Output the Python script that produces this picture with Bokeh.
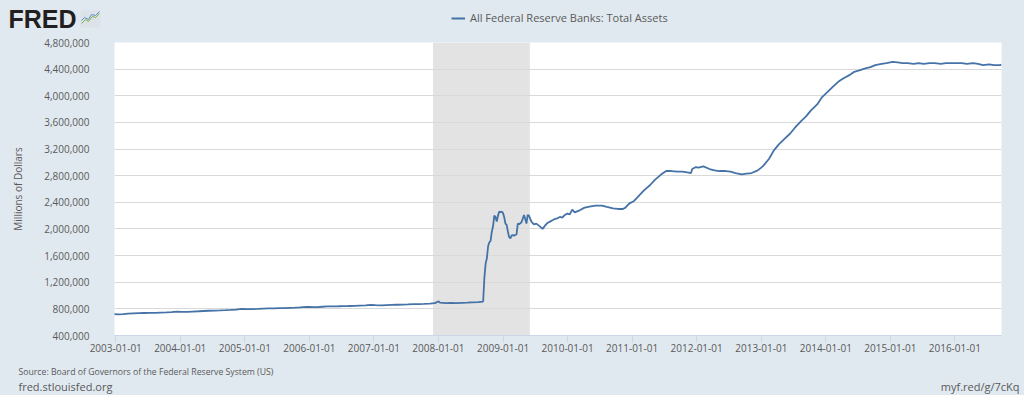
import pandas as pd
from bokeh.plotting import figure
from bokeh.layouts import column
from bokeh.models import (Range1d, FixedTicker, NumeralTickFormatter, DatetimeTickFormatter,
                          BoxAnnotation, Legend, LegendItem, GlobalInlineStyleSheet, ColumnDataSource)
from bokeh.embed import file_html
from bokeh.resources import INLINE
from bokeh.core.properties import value

# ---------------- data ----------------
dates = [
    "2002-12-18", "2003-01-15", "2003-02-12", "2003-03-12", "2003-04-09", "2003-05-14", "2003-06-11",
    "2003-07-09", "2003-08-13", "2003-09-10", "2003-10-15", "2003-11-12", "2003-12-10",
    "2004-01-14", "2004-02-11", "2004-03-10", "2004-04-14", "2004-05-12", "2004-06-09",
    "2004-07-14", "2004-08-11", "2004-09-15", "2004-10-13", "2004-11-10", "2004-12-15",
    "2005-01-12", "2005-02-09", "2005-03-16", "2005-04-13", "2005-05-11", "2005-06-15",
    "2005-07-13", "2005-08-10", "2005-09-14", "2005-10-12", "2005-11-09", "2005-12-14",
    "2006-01-11", "2006-02-15", "2006-03-15", "2006-04-12", "2006-05-10", "2006-06-14",
    "2006-07-12", "2006-08-09", "2006-09-13", "2006-10-11", "2006-11-15", "2006-12-13",
    "2007-01-10", "2007-02-14", "2007-03-14", "2007-04-11", "2007-05-09", "2007-06-13",
    "2007-07-11", "2007-08-15", "2007-09-12", "2007-10-10", "2007-11-14", "2007-12-12",
    "2007-12-26", "2008-01-02", "2008-01-09", "2008-02-13", "2008-03-12", "2008-04-09",
    "2008-05-14", "2008-06-11", "2008-07-09", "2008-08-13", "2008-09-10", "2008-09-17",
    "2008-09-24", "2008-10-01", "2008-10-08", "2008-10-15", "2008-10-22", "2008-10-29",
    "2008-11-05", "2008-11-12", "2008-11-19", "2008-11-26", "2008-12-03", "2008-12-10",
    "2008-12-17", "2008-12-24", "2008-12-31", "2009-01-07", "2009-01-14", "2009-01-21",
    "2009-01-28", "2009-02-04", "2009-02-11", "2009-02-18", "2009-02-25", "2009-03-04",
    "2009-03-11", "2009-03-18", "2009-03-25", "2009-04-01", "2009-04-15", "2009-04-29",
    "2009-05-06", "2009-05-13", "2009-05-20", "2009-05-27", "2009-06-10", "2009-06-24",
    "2009-07-08", "2009-07-22", "2009-08-05", "2009-08-12", "2009-08-26", "2009-09-09",
    "2009-09-23", "2009-10-07", "2009-10-21", "2009-11-04", "2009-11-18", "2009-12-02",
    "2009-12-16", "2009-12-30", "2010-01-13", "2010-01-27", "2010-02-10", "2010-03-10",
    "2010-04-07", "2010-05-12", "2010-06-09", "2010-07-14", "2010-08-11", "2010-09-15",
    "2010-10-13", "2010-11-10", "2010-11-24", "2010-12-15", "2011-01-12", "2011-02-09",
    "2011-03-09", "2011-04-13", "2011-05-11", "2011-06-15", "2011-07-13", "2011-08-10",
    "2011-09-14", "2011-10-12", "2011-11-09", "2011-11-30", "2011-12-07", "2011-12-28",
    "2012-01-11", "2012-02-08", "2012-03-14", "2012-04-11", "2012-05-09", "2012-06-13",
    "2012-07-11", "2012-08-08", "2012-09-12", "2012-10-10", "2012-11-07", "2012-12-12",
    "2013-01-09", "2013-02-13", "2013-03-13", "2013-04-10", "2013-05-15", "2013-06-12",
    "2013-07-10", "2013-08-14", "2013-09-11", "2013-10-09", "2013-11-13", "2013-12-11",
    "2014-01-08", "2014-02-12", "2014-03-12", "2014-04-09", "2014-05-14", "2014-06-11",
    "2014-07-09", "2014-08-13", "2014-09-10", "2014-10-08", "2014-11-12", "2014-12-10",
    "2015-01-14", "2015-02-11", "2015-03-11", "2015-04-08", "2015-05-13", "2015-06-10",
    "2015-07-08", "2015-08-12", "2015-09-09", "2015-10-14", "2015-11-11", "2015-12-09",
    "2016-01-13", "2016-02-10", "2016-03-09", "2016-04-13", "2016-05-11", "2016-06-08",
    "2016-07-13", "2016-08-10", "2016-09-14", "2016-09-21",
]
total_assets = [
    720000, 718000, 722000, 728000, 733000, 736000, 738000,
    740000, 741000, 745000, 748000, 752000, 758000,
    756000, 755000, 760000, 764000, 768000, 772000,
    775000, 777000, 781000, 785000, 790000, 800000,
    795000, 796000, 800000, 804000, 806000, 808000,
    810000, 812000, 816000, 819000, 823000, 830000,
    828000, 827000, 832000, 836000, 838000, 839000,
    842000, 843000, 845000, 848000, 852000, 860000,
    855000, 853000, 857000, 860000, 862000, 864000,
    866000, 870000, 872000, 875000, 880000, 885000,
    905000, 912000, 893000, 885000, 888000, 885000,
    890000, 893000, 897000, 902000, 910000, 1270000,
    1480000, 1560000, 1740000, 1800000, 1820000, 1960000,
    2040000, 2200000, 2180000, 2110000, 2200000, 2260000,
    2250000, 2260000, 2240000, 2180000, 2080000, 2060000,
    1960000, 1880000, 1860000, 1900000, 1910000, 1900000,
    1910000, 1920000, 2080000, 2070000, 2100000, 2210000,
    2150000, 2080000, 2210000, 2200000, 2110000, 2070000,
    2080000, 2050000, 2020000, 2000000, 2050000, 2090000,
    2110000, 2130000, 2150000, 2160000, 2180000, 2170000,
    2210000, 2230000, 2220000, 2290000, 2250000, 2280000,
    2320000, 2340000, 2350000, 2350000, 2330000, 2310000,
    2300000, 2300000, 2320000, 2380000, 2420000, 2500000,
    2580000, 2660000, 2740000, 2820000, 2870000, 2870000,
    2860000, 2860000, 2850000, 2840000, 2900000, 2930000,
    2920000, 2940000, 2900000, 2880000, 2870000, 2870000,
    2860000, 2840000, 2820000, 2830000, 2840000, 2880000,
    2940000, 3050000, 3180000, 3270000, 3360000, 3430000,
    3520000, 3620000, 3690000, 3780000, 3870000, 3980000,
    4050000, 4140000, 4210000, 4260000, 4310000, 4360000,
    4380000, 4410000, 4430000, 4460000, 4480000, 4490000,
    4510000, 4500000, 4490000, 4490000, 4480000, 4490000,
    4480000, 4490000, 4490000, 4480000, 4490000, 4490000,
    4490000, 4490000, 4480000, 4490000, 4480000, 4460000,
    4470000, 4460000, 4460000, 4470000,
]
recession_start = "2007-12-01"
recession_end = "2009-06-01"
x_tick_dates = ["2003-01-01", "2004-01-01", "2005-01-01", "2006-01-01", "2007-01-01",
                "2008-01-01", "2009-01-01", "2010-01-01", "2011-01-01", "2012-01-01",
                "2013-01-01", "2014-01-01", "2015-01-01", "2016-01-01"]
y_ticks = [400000, 800000, 1200000, 1600000, 2000000, 2400000, 2800000,
           3200000, 3600000, 4000000, 4400000, 4800000]
series_name = "All Federal Reserve Banks: Total Assets"
y_label = "Millions of Dollars"
logo_text = "FRED"
source_text = "Source: Board of Governors of the Federal Reserve System (US)"
site_text = "fred.stlouisfed.org"
link_text = "myf.red/g/7cKq"

# ---------------- styling ----------------
BG = "#e1e9f0"
TXT = "#595959"
LINE = "#4572a7"
FONT = "Open Sans"
W = 1024
HEAD_H, MAIN_H, FOOT_H = 34, 325, 36

src = ColumnDataSource(data=dict(date=pd.to_datetime(dates), assets=total_assets))


def bare_figure(height, y0, y1):
    f = figure(width=W, height=height, output_backend="svg", toolbar_location=None,
               x_range=Range1d(0, W), y_range=Range1d(y0, y1),
               x_axis_location=None, y_axis_location=None, frame_align=False,
               min_border=0, min_border_left=0, min_border_right=0,
               min_border_top=0, min_border_bottom=0)
    f.grid.visible = False
    f.background_fill_color = BG
    f.border_fill_color = BG
    f.outline_line_color = None
    return f


# ---------------- header: logo + legend ----------------
head = bare_figure(HEAD_H, HEAD_H, 0)   # y measured downward from the top of the page
head.text(x=[8], y=[18], text=[logo_text], text_font=value("Liberation Sans"),
          text_font_style="bold", text_font_size="25px", text_color="#231f20",
          text_baseline="middle")
head.quad(left=[80], right=[100], top=[10], bottom=[27], fill_color="#dde2e8", line_color=None)
head.line(x=[81, 85, 88, 92, 95, 99], y=[23, 19, 21, 16, 17, 13], line_color="#7cb342", line_width=1)
head.line(x=[81, 84, 88, 91, 95, 99], y=[20, 17, 19, 14, 15, 11], line_color="#5b8cc4", line_width=1)
# the legend's sample is the series itself (drawn off-screen in this strip)
head_r = head.line("date", "assets", source=src, line_color=LINE, line_width=2)
legend = Legend(items=[LegendItem(label=series_name, renderers=[head_r])],
                location=(451, 9), orientation="horizontal",
                padding=0, margin=0, spacing=0, glyph_width=14, glyph_height=14,
                label_height=14, label_standoff=5,
                label_text_font=FONT, label_text_font_size="11px", label_text_color=TXT,
                border_line_color=None, background_fill_alpha=0)
head.add_layout(legend, "center")

# ---------------- main chart ----------------
p = figure(width=W, height=MAIN_H, x_axis_type="datetime",
           output_backend="svg", toolbar_location=None, frame_align=False,
           x_range=Range1d(pd.Timestamp("2002-12-25"), pd.Timestamp("2016-09-21")),
           y_range=Range1d(400000, 4800000),
           min_border_left=114, min_border_right=23, min_border_top=8, min_border_bottom=24)
p.border_fill_color = BG
p.background_fill_color = "white"
p.outline_line_color = None

p.add_layout(BoxAnnotation(left=pd.Timestamp(recession_start), right=pd.Timestamp(recession_end),
                           fill_color="#e3e3e3", fill_alpha=1.0, line_color=None, level="image"))

r = p.line("date", "assets", source=src, line_color=LINE, line_width=1.8)

p.xaxis.ticker = FixedTicker(ticks=[pd.Timestamp(d).value // 10**6 for d in x_tick_dates])
fmt = "%Y-%m-%d"
p.xaxis.formatter = DatetimeTickFormatter(milliseconds=fmt, seconds=fmt, minsec=fmt, minutes=fmt,
                                          hourmin=fmt, hours=fmt, days=fmt, months=fmt, years=fmt)
p.xaxis.axis_line_color = "#ccd6eb"
p.xaxis.major_tick_line_color = "#ccd6eb"
p.xaxis.major_tick_out = 7
p.xaxis.major_tick_in = 0
p.xaxis.minor_tick_line_color = None
p.xaxis.major_label_text_font = FONT
p.xaxis.major_label_text_font_size = "10px"
p.xaxis.major_label_text_color = TXT
p.xaxis.major_label_standoff = 1

p.yaxis.ticker = FixedTicker(ticks=y_ticks)
p.yaxis.formatter = NumeralTickFormatter(format="0,0")
p.yaxis.axis_line_color = None
p.yaxis.major_tick_line_color = None
p.yaxis.minor_tick_line_color = None
p.yaxis.major_label_text_font = FONT
p.yaxis.major_label_text_font_size = "10px"
p.yaxis.major_label_text_color = TXT
p.yaxis.major_label_standoff = 19
p.yaxis.axis_label = y_label
p.yaxis.axis_label_text_font = FONT
p.yaxis.axis_label_text_font_size = "10px"
p.yaxis.axis_label_text_font_style = "normal"
p.yaxis.axis_label_text_color = TXT
p.yaxis.axis_label_standoff = 16

p.xgrid.grid_line_color = None
p.ygrid.ticker = FixedTicker(ticks=y_ticks)
p.ygrid.grid_line_color = "#d9d9d9"
p.ygrid.grid_line_width = 1

# ---------------- footer: source and links ----------------
foot = bare_figure(FOOT_H, HEAD_H + MAIN_H + FOOT_H, HEAD_H + MAIN_H)  # page y, downward
foot.text(x=[18], y=[371], text=[source_text], text_font=value(FONT), text_font_size="8.7px",
          text_color=TXT, text_baseline="middle")
foot.text(x=[18], y=[386], text=[site_text], text_font=value(FONT), text_font_size="11px",
          text_color=TXT, text_baseline="middle")
foot.text(x=[1019], y=[386], text=[link_text], text_font=value(FONT), text_font_size="11px",
          text_color=TXT, text_align="right", text_baseline="middle")

page = column(head, p, foot, spacing=0)
page.stylesheets = [GlobalInlineStyleSheet(css=f"html, body {{ background: {BG}; overflow: hidden; }}")]

open("out.html", "w").write(file_html(page, INLINE))
